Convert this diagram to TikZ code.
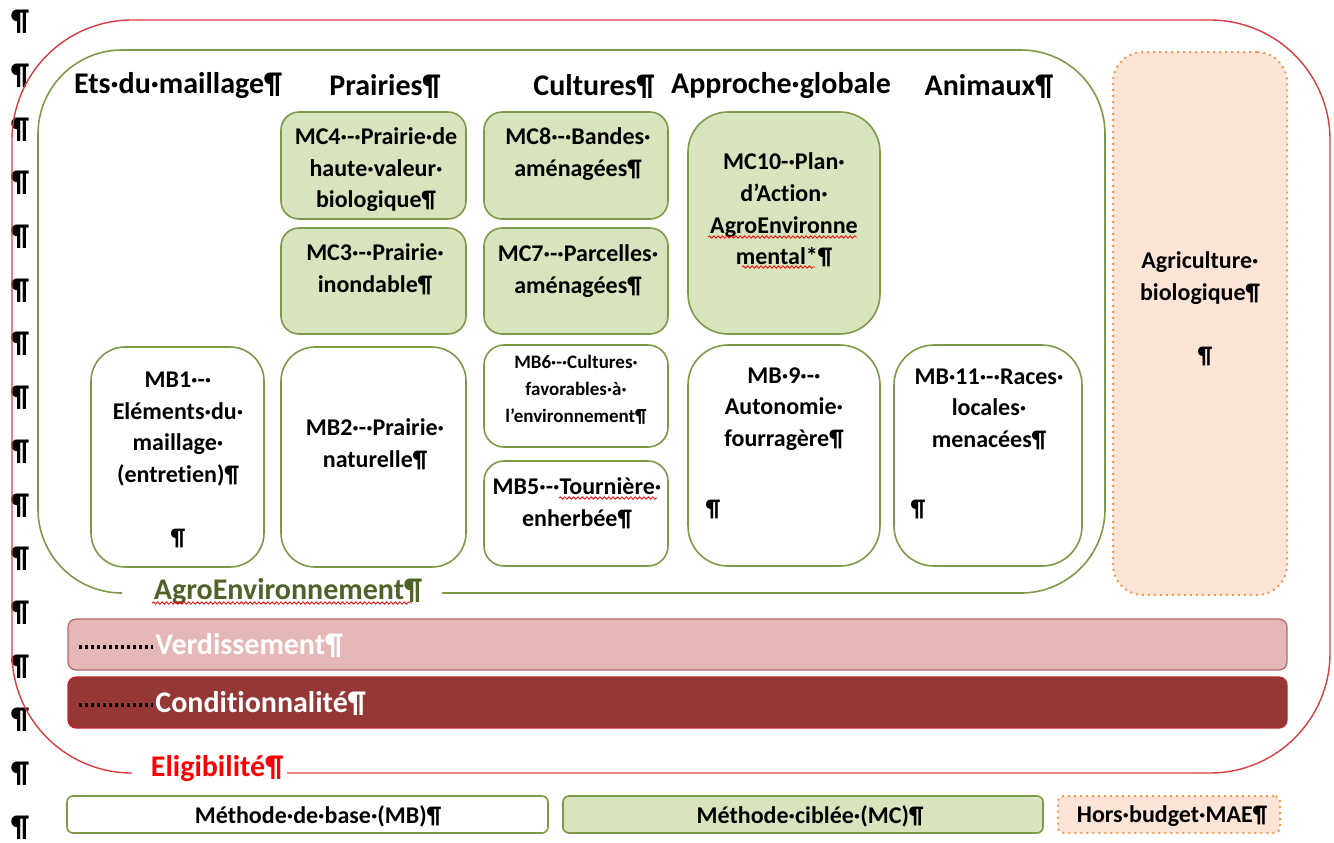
\documentclass[tikz,border=0pt]{standalone}
\usepackage{fontspec}
\setmainfont{Carlito}[Ligatures={NoCommon}]
\usetikzlibrary{fit,decorations.pathmorphing}

\definecolor{mcfill}{HTML}{D7E4BD}
\definecolor{mcline}{HTML}{7D9A48}
\definecolor{framered}{HTML}{DA3C3F}
\definecolor{hbfill}{HTML}{FCE4D6}
\definecolor{hbline}{HTML}{F59A52}
\definecolor{verdfill}{HTML}{E5B8B7}
\definecolor{verdline}{HTML}{B0676A}
\definecolor{condfill}{HTML}{953735}
\definecolor{condline}{HTML}{C0282D}
\definecolor{agrotext}{HTML}{4F6228}

\begin{document}
\begin{tikzpicture}[x=0.5pt,y=-0.5pt,
    cell/.style={draw=mcline, line width=0.8pt, inner sep=0pt},
    mcbox/.style={cell, fill=mcfill},
    mbbox/.style={cell, fill=white},
    hbbox/.style={draw=hbline, fill=hbfill, dotted, line width=1pt, inner sep=0pt},
    txt/.style={font=\bfseries\fontsize{12}{15.8}\selectfont, align=center, inner sep=0pt},
    head/.style={font=\bfseries\fontsize{15}{18}\selectfont, inner sep=0pt},
    leader/.style={line width=1.8pt, dash pattern=on 1.6pt off 1.4pt},
    spell/.style={draw=red, line width=0.4pt, decorate,
        decoration={snake, amplitude=0.6pt, segment length=2.2pt}}]
    \useasboundingbox (0,0) rectangle (1334,842);

    % marques de paragraphe de la marge
    \foreach \i in {0,...,15}
        \node[head] (pil\i) at (20,{22+53.7*\i}) {¶};

    % cadre Eligibilite
    \draw[framered, line width=0.7pt, rounded corners=60pt]
        (287,773) -- (1330,773) -- (1330,20) -- (12,20) -- (12,773) -- (132,773);
    \node[head, text=red] (elig) at (217,769) {Eligibilité¶};

    % cadre AgroEnvironnement
    \draw[mcline, line width=0.8pt, rounded corners=42pt]
        (442,593) -- (1105,593) -- (1105,50) -- (38,50) -- (38,593) -- (122,593);
    \node[head, text=agrotext] (agro) at (288,592) {AgroEnvironnement¶};
    \draw[spell] (152,603) -- (412,603);

    % titres des colonnes
    \node[head] (h-maill) at (178,86) {Ets·du·maillage¶};
    \node[head] (h-prair) at (385,86) {Prairies¶};
    \node[head] (h-cult)  at (594,86) {Cultures¶};
    \node[head] (h-glob)  at (781,86) {Approche·globale};
    \node[head] (h-anim)  at (989,86) {Animaux¶};

    % methodes ciblees
    \node[mcbox, rounded corners=9pt, fit={(281,112) (466,219)}] (mc4) {};
    \begin{scope}
        \clip (281,112) rectangle (466,210);
        \node[txt] (mc4-t) at (376,170) {MC4·-·Prairie·de\\haute·valeur·\\biologique¶};
    \end{scope}
    \node[mcbox, rounded corners=9pt, fit={(281,228) (466,334)}] (mc3) {};
    \node[txt] (mc3-t) at (375,269) {MC3·-·Prairie·\\inondable¶};
    \node[mcbox, rounded corners=9pt, fit={(484,112) (668,219)}] (mc8) {};
    \node[txt] (mc8-t) at (578,154) {MC8·-·Bandes·\\aménagées¶};
    \node[mcbox, rounded corners=9pt, fit={(484,228) (668,334)}] (mc7) {};
    \node[txt] (mc7-t) at (578,271) {MC7·-·Parcelles·\\aménagées¶};
    \node[mcbox, rounded corners=20pt, fit={(688,112) (880,334)}] (mc10) {};
    \node[txt] (mc10-t) at (784,210) {MC10-·Plan·\\d’Action·\\AgroEnvironne\\mental*¶};
    \draw[spell] (708,237) -- (857,237);
    \draw[spell] (742,267) -- (815,267);

    % methodes de base
    \node[mbbox, rounded corners=17pt, fit={(91,347) (264,567)}] (mb1) {};
    \node[txt] (mb1-t) at (178,460) {MB1·-·\\Eléments·du·\\maillage·\\(entretien)¶\\[15.8pt]¶};
    \node[mbbox, rounded corners=17pt, fit={(281,347) (466,567)}] (mb2) {};
    \node[txt] (mb2-t) at (375,444) {MB2·-·Prairie·\\naturelle¶};
    \node[mbbox, rounded corners=10pt, fit={(484,345) (668,447)}] (mb6) {};
    \node[txt, font=\bfseries\fontsize{9.5}{13.5}\selectfont] (mb6-t) at (576,390)
        {MB6·-·Cultures·\\favorables·à·\\l’environnement¶};
    \node[mbbox, rounded corners=10pt, fit={(484,461) (668,566)}] (mb5) {};
    \node[txt] (mb5-t) at (577,503) {MB5·-·Tournière·\\enherbée¶};
    \draw[spell] (559,498) -- (657,498);
    \node[mbbox, rounded corners=20pt, fit={(688,345) (880,566)}] (mb9) {};
    \node[txt] (mb9-t) at (784,409) {MB·9·-·\\Autonomie·\\fourragère¶};
    \node[txt] (mb9-p) at (713,509) {¶};
    \node[mbbox, rounded corners=20pt, fit={(894,345) (1082,566)}] (mb11) {};
    \node[txt] (mb11-t) at (989,409) {MB·11·-·Races·\\locales·\\menacées¶};
    \node[txt] (mb11-p) at (918,509) {¶};

    % hors budget
    \node[hbbox, rounded corners=15pt, fit={(1113,52) (1287,595)}] (bio) {};
    \node[txt] (bio-t) at (1200,278) {Agriculture·\\biologique¶};
    \node[txt] (bio-p) at (1205,356) {¶};

    % bandeaux
    \node[draw=verdline, fill=verdfill, line width=0.6pt, rounded corners=4pt,
        inner sep=0pt, fit={(68,619) (1287,670)}] (verd) {};
    \draw[leader] (79,647) -- (153,647);
    \node[head, text=white, anchor=west] (verd-t) at (155,645) {Verdissement¶};
    \node[draw=condline, fill=condfill, line width=0.6pt, rounded corners=4pt,
        inner sep=0pt, fit={(68,677) (1287,728)}] (cond) {};
    \draw[leader] (79,705) -- (153,705);
    \node[head, text=white, anchor=west] (cond-t) at (155,703) {Conditionnalité¶};

    % legende
    \node[mbbox, rounded corners=3pt, fit={(67,796) (548,833)}] (leg-mb) {};
    \node[txt] (leg-mb-t) at (318,816) {Méthode·de·base·(MB)¶};
    \node[mcbox, rounded corners=3pt, fit={(563,796) (1043,833)}] (leg-mc) {};
    \node[txt] (leg-mc-t) at (810,816) {Méthode·ciblée·(MC)¶};
    \node[hbbox, rounded corners=3pt, fit={(1058,796) (1280,833)}] (leg-hb) {};
    \node[txt] (leg-hb-t) at (1172,816) {Hors·budget·MAE¶};
\end{tikzpicture}
\end{document}
